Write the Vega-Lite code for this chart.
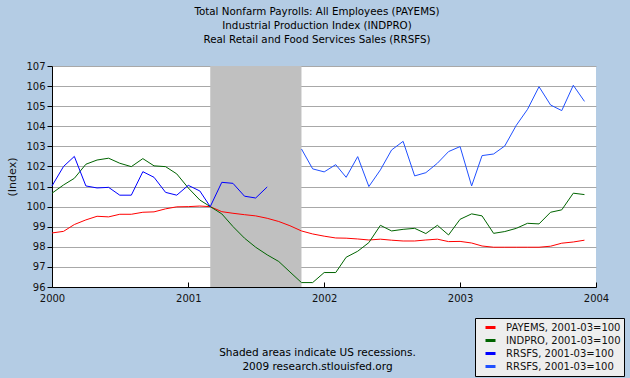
{
  "$schema": "https://vega.github.io/schema/vega-lite/v6.json",
  "width": 544,
  "height": 221,
  "autosize": {"type": "none"},
  "padding": {"left": 52, "top": 66, "right": 34, "bottom": 91},
  "background": "#b4cce4",
  "config": {
    "view": {"stroke": null, "fill": "white"},
    "font": "DejaVu Sans"
  },
  "title": {
    "text": ["Total Nonfarm Payrolls: All Employees (PAYEMS)", "Industrial Production Index (INDPRO)", "Real Retail and Food Services Sales (RRSFS)"],
    "font": "DejaVu Sans",
    "fontSize": 10.3,
    "fontWeight": "normal",
    "color": "#000000",
    "lineHeight": 14,
    "anchor": "middle",
    "frame": "group",
    "baseline": "alphabetic",
    "dx": -7,
    "offset": 8
  },
  "encoding": {
    "x": {
      "field": "d",
      "type": "temporal",
      "scale": {"type": "utc", "domain": [{"year": 2000, "month": 1, "date": 1, "utc": true}, {"year": 2004, "month": 1, "date": 1, "utc": true}]},
      "axis": {
        "values": [{"year": 2000, "month": 1, "date": 1, "utc": true}, {"year": 2001, "month": 1, "date": 1, "utc": true}, {"year": 2002, "month": 1, "date": 1, "utc": true}, {"year": 2003, "month": 1, "date": 1, "utc": true}, {"year": 2004, "month": 1, "date": 1, "utc": true}],
        "format": "%Y",
        "formatType": "utc",
        "grid": false,
        "domainColor": "#000000",
        "domainWidth": 1,
        "tickColor": "#000000",
        "tickSize": -5,
        "labelPadding": 11,
        "labelFont": "DejaVu Sans",
        "labelFontSize": 10,
        "labelColor": "#111111",
        "labelFlush": false,
        "labelOverlap": false,
        "title": ["Shaded areas indicate US recessions.", "2009 research.stlouisfed.org"],
        "titleFont": "DejaVu Sans",
        "titleFontSize": 10.5,
        "titleFontWeight": "normal",
        "titleColor": "#000000",
        "titleLineHeight": 14,
        "titleAlign": "center",
        "titleBaseline": "alphabetic",
        "titleX": 265,
        "titleY": 68
      }
    }
  },
  "layer": [
    {
      "data": {"values": [{"d": "2001-03-01", "d2": "2001-11-01"}]},
      "mark": {"type": "rect", "color": "#c0c0c0", "opacity": 1},
      "encoding": {"x2": {"field": "d2"}}
    },
    {
      "data": {"values": [
        {"d": "2000-01-01", "P": 98.69, "I": 100.67, "R": 101.03},
        {"d": "2000-02-01", "P": 98.77, "I": 101.08, "R": 102.0},
        {"d": "2000-03-01", "P": 99.11, "I": 101.41, "R": 102.5},
        {"d": "2000-04-01", "P": 99.34, "I": 102.11, "R": 101.03},
        {"d": "2000-05-01", "P": 99.52, "I": 102.32, "R": 100.93},
        {"d": "2000-06-01", "P": 99.49, "I": 102.41, "R": 100.96},
        {"d": "2000-07-01", "P": 99.62, "I": 102.16, "R": 100.57},
        {"d": "2000-08-01", "P": 99.62, "I": 101.99, "R": 100.57},
        {"d": "2000-09-01", "P": 99.72, "I": 102.39, "R": 101.74},
        {"d": "2000-10-01", "P": 99.74, "I": 102.03, "R": 101.46},
        {"d": "2000-11-01", "P": 99.89, "I": 101.99, "R": 100.71},
        {"d": "2000-12-01", "P": 99.99, "I": 101.63, "R": 100.57},
        {"d": "2001-01-01", "P": 100.0, "I": 100.93, "R": 101.06},
        {"d": "2001-02-01", "P": 100.03, "I": 100.33, "R": 100.78},
        {"d": "2001-03-01", "P": 100.0, "I": 100.0, "R": 100.0},
        {"d": "2001-04-01", "P": 99.75, "I": 99.64, "R": 101.21},
        {"d": "2001-05-01", "P": 99.67, "I": 99.01, "R": 101.16},
        {"d": "2001-06-01", "P": 99.6, "I": 98.43, "R": 100.52},
        {"d": "2001-07-01", "P": 99.54, "I": 97.98, "R": 100.43},
        {"d": "2001-08-01", "P": 99.42, "I": 97.6, "R": 100.98},
        {"d": "2001-09-01", "P": 99.26, "I": 97.27},
        {"d": "2001-10-01", "P": 99.05, "I": 96.75},
        {"d": "2001-11-01", "P": 98.79, "I": 96.22, "R2": 102.87},
        {"d": "2001-12-01", "P": 98.64, "I": 96.22, "R2": 101.88},
        {"d": "2002-01-01", "P": 98.53, "I": 96.72, "R2": 101.73},
        {"d": "2002-02-01", "P": 98.44, "I": 96.72, "R2": 102.09},
        {"d": "2002-03-01", "P": 98.43, "I": 97.48, "R2": 101.46},
        {"d": "2002-04-01", "P": 98.39, "I": 97.78, "R2": 102.49},
        {"d": "2002-05-01", "P": 98.34, "I": 98.21, "R2": 101.0},
        {"d": "2002-06-01", "P": 98.38, "I": 99.07, "R2": 101.83},
        {"d": "2002-07-01", "P": 98.33, "I": 98.79, "R2": 102.82},
        {"d": "2002-08-01", "P": 98.29, "I": 98.87, "R2": 103.25},
        {"d": "2002-09-01", "P": 98.29, "I": 98.92, "R2": 101.53},
        {"d": "2002-10-01", "P": 98.34, "I": 98.66, "R2": 101.69},
        {"d": "2002-11-01", "P": 98.38, "I": 99.07, "R2": 102.16},
        {"d": "2002-12-01", "P": 98.26, "I": 98.59, "R2": 102.74},
        {"d": "2003-01-01", "P": 98.27, "I": 99.37, "R2": 102.99},
        {"d": "2003-02-01", "P": 98.19, "I": 99.64, "R2": 101.03},
        {"d": "2003-03-01", "P": 98.04, "I": 99.54, "R2": 102.54},
        {"d": "2003-04-01", "P": 97.98, "I": 98.67, "R2": 102.62},
        {"d": "2003-05-01", "P": 97.98, "I": 98.76, "R2": 103.02},
        {"d": "2003-06-01", "P": 97.98, "I": 98.92, "R2": 104.05},
        {"d": "2003-07-01", "P": 97.98, "I": 99.17, "R2": 104.84},
        {"d": "2003-08-01", "P": 97.98, "I": 99.14, "R2": 105.97},
        {"d": "2003-09-01", "P": 98.03, "I": 99.72, "R2": 105.06},
        {"d": "2003-10-01", "P": 98.18, "I": 99.84, "R2": 104.78},
        {"d": "2003-11-01", "P": 98.24, "I": 100.67, "R2": 106.04},
        {"d": "2003-12-01", "P": 98.33, "I": 100.6, "R2": 105.24}
      ]},
      "transform": [
        {"fold": ["P", "I", "R", "R2"], "as": ["key", "value"]},
        {"filter": "isValid(datum.value)"}
      ],
      "mark": {"type": "line", "strokeWidth": 1},
      "encoding": {
        "y": {
          "field": "value",
          "type": "quantitative",
          "scale": {"domain": [96, 107], "nice": false, "zero": false},
          "axis": {
            "values": [96, 97, 98, 99, 100, 101, 102, 103, 104, 105, 106, 107],
            "grid": true,
            "gridColor": "#a8a8a8",
            "gridWidth": 1,
            "domainColor": "#000000",
            "tickColor": "#000000",
            "tickSize": 5,
            "labelPadding": 2,
            "labelFont": "DejaVu Sans",
            "labelFontSize": 10,
            "labelColor": "#111111",
            "labelFlush": false,
            "labelOverlap": false,
            "title": "(Index)",
            "titleFont": "DejaVu Sans",
            "titleFontSize": 11,
            "titleFontWeight": "normal",
            "titleColor": "#111111",
            "titlePadding": 8
          }
        },
        "color": {
          "field": "key",
          "type": "nominal",
          "scale": {"domain": ["P", "I", "R", "R2"], "range": ["#ff0000", "#006400", "#0000ff", "#2050ff"]},
          "legend": {
            "orient": "none",
            "legendX": 423,
            "legendY": 252,
            "title": null,
            "fillColor": "#eeeeee",
            "strokeColor": "#000000",
            "padding": 3,
            "cornerRadius": 0,
            "symbolType": "stroke",
            "symbolStrokeWidth": 3,
            "symbolSize": 100,
            "symbolOffset": 6,
            "labelOffset": 9,
            "rowPadding": -1,
            "labelFont": "DejaVu Sans",
            "labelFontSize": 10,
            "labelColor": "#111111",
            "labelExpr": "datum.label == 'P' ? 'PAYEMS, 2001-03=100' : datum.label == 'I' ? 'INDPRO, 2001-03=100' : 'RRSFS, 2001-03=100'"
          }
        }
      }
    }
  ]
}
